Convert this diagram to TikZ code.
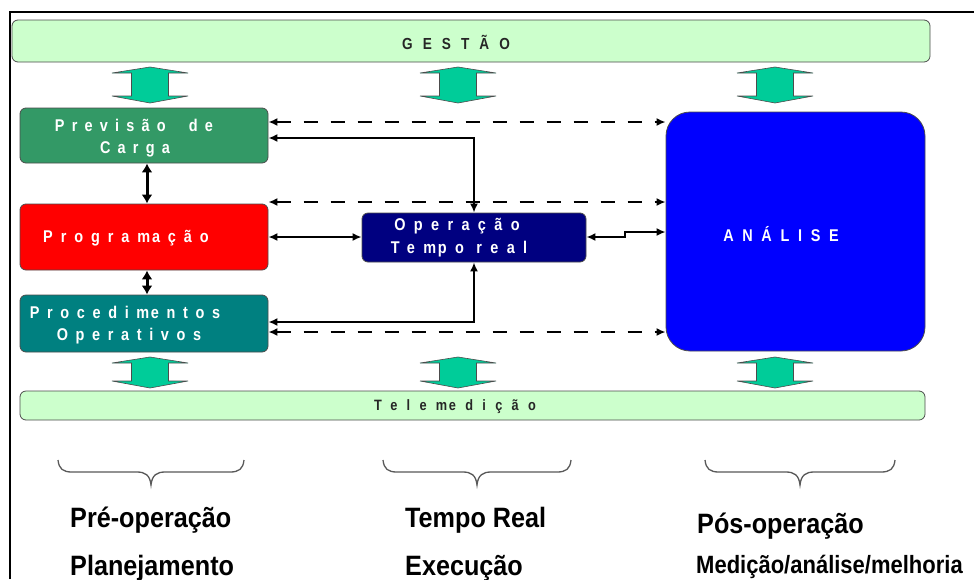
\documentclass[tikz,border=0pt]{standalone}
\usepackage{fontspec}
\setmainfont{Liberation Sans}
\usetikzlibrary{arrows.meta}

% horizontal squeeze and letter spacing helpers
\newcommand{\sqz}[2]{\scalebox{#1}[1]{#2}}
\newcommand{\lsp}[1]{\addfontfeature{LetterSpace=#1}}

\definecolor{barfill}{HTML}{CCFFCC}
\definecolor{fatgreen}{HTML}{00CC99}
\definecolor{prevcol}{HTML}{339966}
\definecolor{progcol}{HTML}{FF0000}
\definecolor{proccol}{HTML}{008080}
\definecolor{opercol}{HTML}{000080}
\definecolor{analcol}{HTML}{0000FF}

\tikzset{
  box/.style={draw=black!70, line width=0.8pt, rounded corners=6pt, inner sep=0pt},
  bar/.style={box, fill=barfill},
  txt/.style={inner sep=0pt, font=\bfseries\fontsize{17}{17}\selectfont},
  wtxt/.style={txt, text=white},
  phase/.style={inner sep=0pt, anchor=base west, font=\bfseries\fontsize{28}{28}\selectfont},
  solidlink/.style={line width=2pt, {Latex[length=9pt,width=8pt]}-{Latex[length=9pt,width=8pt]}},
  dashlink/.style={line width=2.5pt, dash pattern=on 14pt off 13pt,
    {Latex[length=9pt,width=8pt]}-{Latex[length=9pt,width=8pt]}},
  vlink/.style={line width=3pt, {Latex[length=9pt,width=11pt]}-{Latex[length=9pt,width=11pt]}},
  pics/fatarrow/.style={code={
    \filldraw[fill=fatgreen, draw=black!70, line width=0.6pt]
      (0,-#1) -- (38,-#1+6) -- (18.5,-#1+6) -- (18.5,#1-7) -- (38,#1-7) -- (0,#1)
      -- (-38,#1-7) -- (-18.5,#1-7) -- (-18.5,-#1+6) -- (-38,-#1+6) -- cycle;
  }},
  pics/ubrace/.style={code={
    \draw[black!65, line width=1.3pt]
      (-#1,-12) .. controls (-#1+1,-3) and (-#1+5,0) .. (-#1+14,0) -- (-14,0)
      .. controls (-6,0) and (-1,3) .. (0,13)
      .. controls (1,3) and (6,0) .. (14,0) -- (#1-14,0)
      .. controls (#1-5,0) and (#1-1,-3) .. (#1,-12);
  }}
}

\begin{document}
\begin{tikzpicture}[x=1pt, y=-1pt]
\useasboundingbox (0,0) rectangle (974,579);
\fill[white] (0,0) rectangle (974,579);

% frame
\draw[line width=2pt] (10,579) -- (10,12) -- (974,12);

% horizontal bars
\node[bar, minimum width=918pt, minimum height=42pt] (gestao) at (471,41) {};
\node[txt, text=black!85, font=\bfseries\fontsize{16}{16}\selectfont] (gestaoT) at (456,42)
  {\sqz{0.85}{\lsp{74}GESTÃO}};
\node[bar, minimum width=905pt, minimum height=29pt] (tele) at (472.5,405.5) {};
\node[txt, text=black!85, font=\bfseries\fontsize{15}{15}\selectfont] (teleT) at (455,407)
  {\sqz{0.85}{\lsp{73}Telem\kern2ptedição}};

% process boxes
\node[box, fill=prevcol, minimum width=248pt, minimum height=55pt] (prev) at (144,135.5) {};
\node[box, fill=progcol, minimum width=248pt, minimum height=66pt] (prog) at (144,237) {};
\node[box, fill=proccol, minimum width=248pt, minimum height=57pt] (proc) at (144,323.5) {};
\node[box, fill=opercol, minimum width=224pt, minimum height=49pt] (oper) at (474,237.5) {};
\node[box, fill=analcol, rounded corners=24pt, minimum width=259pt, minimum height=239pt] (anal) at (795.5,231.5) {};

% box labels
\node[wtxt] (prevT1) at (134,125) {\sqz{0.85}{\lsp{50}Previsão\hspace{14pt} de}};
\node[wtxt] (prevT2) at (135,149) {\sqz{0.85}{\lsp{50}Carga}};
\node[wtxt] (progT) at (126,238) {\sqz{0.85}{\lsp{55}Program\kern2ptação}};
\node[wtxt] (procT1) at (125,312) {\sqz{0.85}{\lsp{53}Procedim\kern2ptentos}};
\node[wtxt] (procT2) at (129,336) {\sqz{0.85}{\lsp{53}Operativos}};
\node[wtxt] (operT1) at (457,226) {\sqz{0.85}{\lsp{58}Operação}};
\node[wtxt] (operT2) at (459,249) {\sqz{0.85}{\lsp{58}Tem\kern2ptpo real}};
\node[wtxt] (analT) at (781,234) {\sqz{0.85}{\lsp{60}ANÁLISE}};

% fat arrows between bars and boxes
\foreach \cx in {150,458,775} {
  \pic at (\cx,85) {fatarrow=18};
  \pic at (\cx,372.5) {fatarrow=15.5};
}

% connectors
\draw[dashlink] (prev.east |- 0,122) -- (anal.west |- 0,122);
\draw[solidlink] (prev.east |- 0,138) -| (oper.north);
\draw[dashlink] (prog.east |- 0,202) -- (anal.west |- 0,202);
\draw[solidlink] (prog.east |- 0,237) -- (oper.west |- 0,237);
\draw[solidlink] (oper.east |- 0,237) -- (625,237) -- (625,232) -- (anal.west |- 0,232);
\draw[solidlink] (oper.south) |- (proc.east |- 0,322);
\draw[dashlink] (proc.east |- 0,332) -- (anal.west |- 0,332);
\draw[vlink] (prev.south -| 147,0) -- (prog.north -| 147,0);
\draw[vlink] (prog.south -| 147,0) -- (proc.north -| 147,0);

% phase braces
\pic at (151,472) {ubrace=93};
\pic at (477,472) {ubrace=94};
\pic at (800,472) {ubrace=95};

% phase labels
\node[phase] (pre1) at (70,527) {\sqz{0.9}{Pré-operação}};
\node[phase] (pre2) at (70,575) {\sqz{0.9}{Planejamento}};
\node[phase] (rt1) at (405,527) {\sqz{0.9}{Tempo Real}};
\node[phase] (rt2) at (405,575) {\sqz{0.9}{Execução}};
\node[phase] (pos1) at (697,533) {\sqz{0.9}{Pós-operação}};
\node[phase, font=\bfseries\fontsize{25}{25}\selectfont] (pos2) at (696,573) {\sqz{0.88}{Medição/análise/melhoria}};
\end{tikzpicture}
\end{document}
